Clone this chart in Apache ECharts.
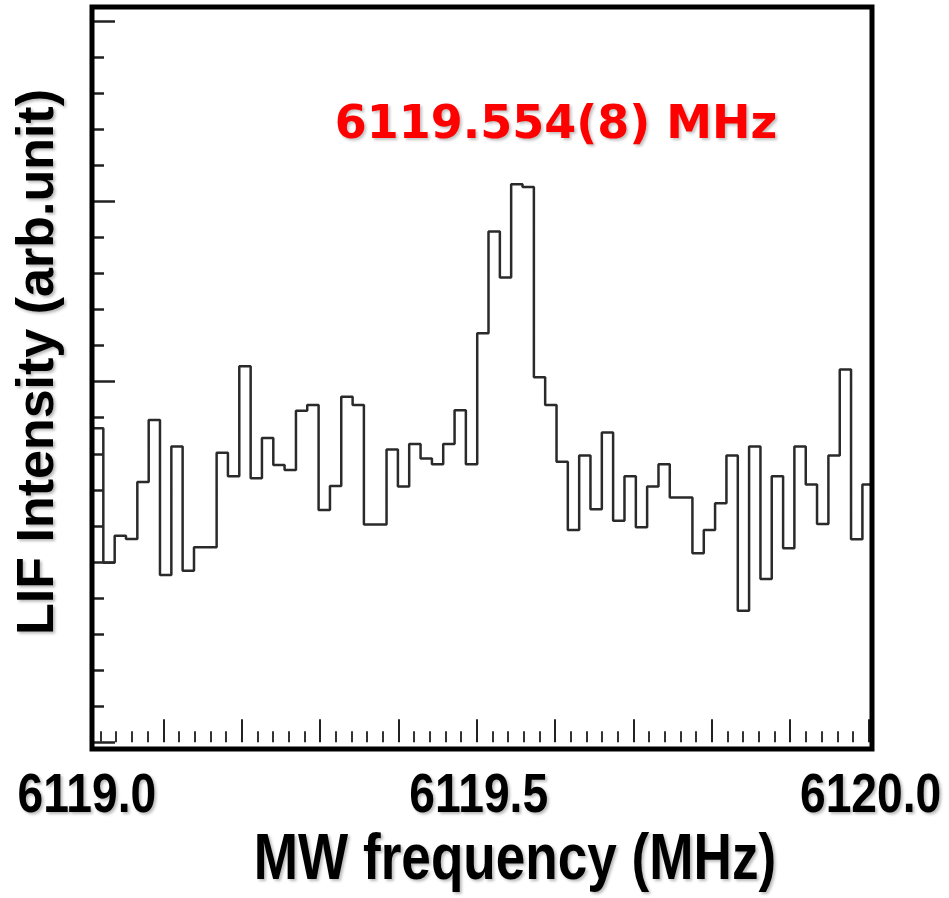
<!DOCTYPE html>
<html>
<head>
<meta charset="utf-8">
<script src="https://cdn.jsdelivr.net/npm/echarts@6/dist/echarts.min.js"></script>
<style>
  html, body { margin: 0; padding: 0; background: #fff; }
  #chart { width: 949px; height: 898px; }
</style>
</head>
<body>
<div id="chart"></div>
<script>
// Bin edges (MHz) of the step spectrum (70 edges -> 69 bins)
const freqEdges = [
  6119.0091, 6119.0235, 6119.0380, 6119.0524, 6119.0669, 6119.0814, 6119.0958, 6119.1103,
  6119.1247, 6119.1392, 6119.1536, 6119.1681, 6119.1825, 6119.1970, 6119.2115, 6119.2259,
  6119.2404, 6119.2548, 6119.2693, 6119.2837, 6119.2982, 6119.3127, 6119.3271, 6119.3416,
  6119.3560, 6119.3705, 6119.3849, 6119.3994, 6119.4138, 6119.4283, 6119.4428, 6119.4572,
  6119.4717, 6119.4861, 6119.5006, 6119.5150, 6119.5295, 6119.5439, 6119.5584, 6119.5729,
  6119.5873, 6119.6018, 6119.6162, 6119.6307, 6119.6451, 6119.6596, 6119.6740, 6119.6885,
  6119.7030, 6119.7174, 6119.7319, 6119.7463, 6119.7608, 6119.7752, 6119.7897, 6119.8041,
  6119.8186, 6119.8331, 6119.8475, 6119.8620, 6119.8764, 6119.8909, 6119.9053, 6119.9198,
  6119.9342, 6119.9487, 6119.9632, 6119.9776, 6119.9921, 6120.0065
];
// LIF intensity of each bin (arb. unit; axis ticks 0..20)
const intensity = [
  8.71, 4.98, 5.73, 5.64, 7.22, 8.94, 4.64, 8.20, 4.76, 5.41,
  5.41, 8.03, 7.38, 10.43, 7.32, 8.44, 7.69, 7.55, 9.19, 9.35,
  6.44, 7.11, 9.58, 9.35, 6.04, 6.04, 8.12, 7.09, 8.27, 7.87,
  7.71, 8.27, 9.21, 7.71, 11.34, 14.16, 12.89, 15.47, 15.40, 10.12,
  9.35, 7.78, 5.89, 7.95, 6.46, 8.59, 6.14, 7.38, 5.96, 7.09,
  7.71, 6.79, 6.79, 5.24, 5.89, 6.63, 7.95, 3.65, 8.20, 4.53,
  7.38, 5.38, 8.20, 7.15, 6.05, 7.95, 10.34, 5.63, 7.15
];
// x tick values (major) and labelled values
const xMajorTicks = [6119.1, 6119.2, 6119.3, 6119.4, 6119.5, 6119.6, 6119.7, 6119.8, 6119.9, 6120.0];
const xLabelValues = [6119.0, 6119.5, 6120.0];
const xRange = [6119.0, 6120.0];
const yRange = [0, 20];

const xTitle = 'MW frequency (MHz)';
const yTitle = 'LIF Intensity (arb.unit)';
const annotation = '6119.554(8) MHz';

// step data: each bin drawn from its left edge, closed at the final right edge
const stepData = intensity.map((v, i) => [freqEdges[i], v]);
stepData.push([freqEdges[freqEdges.length - 1], intensity[intensity.length - 1]]);

const chart = echarts.init(document.getElementById('chart'), null, { renderer: 'canvas' });

const sans = "'Liberation Sans', Arial, sans-serif";
const shadow = { textShadowColor: 'rgba(0,0,0,0.28)', textShadowBlur: 3, textShadowOffsetX: 2, textShadowOffsetY: 2 };

chart.setOption({
  animation: false,
  backgroundColor: '#fff',
  grid: [
    // data / tick grid: 6119.0 .. 6120.0 horizontally, 0 .. 20 vertically
    { left: 84.9, width: 783.7, top: 21, height: 721.3, show: false },
    // frame
    { left: 92, width: 780, top: 7, height: 742, show: true, borderColor: '#000', borderWidth: 5, backgroundColor: 'transparent', z: 5 }
  ],
  xAxis: [
    {
      type: 'value', gridIndex: 0, position: 'bottom', offset: 7,
      min: xRange[0], max: xRange[1], interval: 0.1,
      axisLine: { show: false },
      axisTick: { show: true, inside: true, length: 23, customValues: xMajorTicks, lineStyle: { color: '#222', width: 2 } },
      minorTick: { show: true, splitNumber: 5, length: 11, lineStyle: { color: '#333', width: 2 } },
      splitLine: { show: false },
      axisLabel: { show: false }
    },
    { type: 'value', gridIndex: 1, show: false, min: 0, max: 1 }
  ],
  yAxis: [
    { type: 'value', gridIndex: 0, position: 'left', show: false, min: yRange[0], max: yRange[1] },
    {
      type: 'value', gridIndex: 0, position: 'left', offset: -7.1,
      min: yRange[0], max: yRange[1], interval: 1,
      axisLine: { show: false },
      axisTick: { show: true, inside: true, length: 12, lineStyle: { color: '#222', width: 2.5 } },
      axisLabel: { show: false }, splitLine: { show: false }
    },
    {
      type: 'value', gridIndex: 0, position: 'left', offset: -7.1,
      min: yRange[0], max: yRange[1], interval: 5,
      axisLine: { show: false },
      axisTick: { show: true, inside: true, length: 23, lineStyle: { color: '#222', width: 2.5 } },
      axisLabel: { show: false }, splitLine: { show: false }
    },
    { type: 'value', gridIndex: 1, show: false, min: 0, max: 1 }
  ],
  series: [
    {
      type: 'line', xAxisIndex: 0, yAxisIndex: 0,
      step: 'end', data: stepData,
      showSymbol: false, symbol: 'none', clip: false,
      lineStyle: { color: '#2a2a2a', width: 2.5 },
      z: 3
    }
  ]
});

// x tick labels: condensed bold numbers placed at their values through the axis scale
const labelY = 797;
const graphics = xLabelValues.map(v => ({
  type: 'text',
  x: chart.convertToPixel({ xAxisIndex: 0 }, v) + 2, y: labelY,
  scaleX: 0.84,
  style: {
    text: v.toFixed(1), x: 0, y: 0,
    fill: '#000', font: 'bold 55px ' + sans,
    textAlign: 'center', textVerticalAlign: 'middle',
    ...shadow
  }
}));

graphics.push(
  {
    type: 'text', x: 515, y: 861, scaleX: 0.83,
    style: {
      text: xTitle, x: 0, y: 0,
      fill: '#000', font: 'bold 64px ' + sans,
      textAlign: 'center', textVerticalAlign: 'middle',
      ...shadow
    }
  },
  {
    type: 'text', x: 39, y: 362, rotation: Math.PI / 2,
    style: {
      text: yTitle, x: 0, y: 0,
      fill: '#000', font: 'bold 52px ' + sans,
      textAlign: 'center', textVerticalAlign: 'middle',
      ...shadow
    }
  },
  {
    type: 'text', x: 556, y: 126,
    style: {
      text: annotation, x: 0, y: 0,
      fill: '#ff0000', font: "bold 46px 'DejaVu Sans', Verdana, sans-serif",
      textAlign: 'center', textVerticalAlign: 'middle',
      textShadowColor: 'rgba(0,0,0,0.25)', textShadowBlur: 3, textShadowOffsetX: 2, textShadowOffsetY: 2
    }
  }
);

chart.setOption({ graphic: graphics });
</script>
</body>
</html>
